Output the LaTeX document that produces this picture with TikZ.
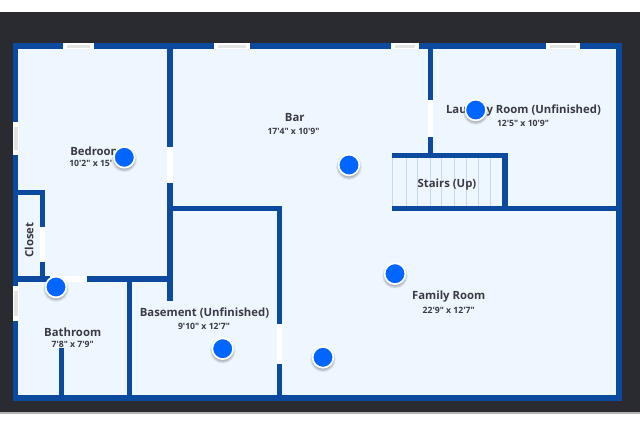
\documentclass[tikz,border=0pt]{standalone}
\usepackage{fontspec}
\newfontfamily\planfont{Open Sans}
\definecolor{frame}{HTML}{2A2B30}
\definecolor{room}{HTML}{EEF7FF}
\definecolor{wall}{HTML}{0B4A9E}
\definecolor{pin}{HTML}{0066FF}
\definecolor{ink}{HTML}{3A3A42}
\definecolor{tread}{HTML}{C4D8EE}
\definecolor{glass}{HTML}{E2E4E2}
\tikzset{
  wallpart/.style={fill=wall},
  doorgap/.style={fill=white},
  treadline/.style={draw=tread,line width=0.6pt},
  roomname/.style={font=\planfont\bfseries\fontsize{8.5}{9}\selectfont,text=ink,inner sep=0pt},
  roomsize/.style={font=\planfont\bfseries\fontsize{6.5}{7}\selectfont,text=ink,inner sep=0pt},
  winframe/.style={fill=white},
  winglass/.style={fill=glass},
  pinshadow/.style={fill=black,fill opacity=0.07},
  pindot/.style={circle,fill=pin,draw=white,line width=1.3pt,minimum size=15.6pt,inner sep=0pt},
}
\newcommand{\pinmark}[3]{%
  \foreach \rr in {9.6,9.0,8.4,7.8} {\fill[pinshadow] (#2,#3+2) circle[radius=\rr pt];}
  \node[pindot] (#1) at (#2,#3) {};}
\newcommand{\hwindow}[2]{%
  \fill[winframe] (#1,43) rectangle (#2,48.5);
  \fill[winglass] (#1+4,44.5) rectangle (#2-4,47.5);}
\newcommand{\vwindow}[2]{%
  \fill[winframe] (13,#1) rectangle (18.5,#2);
  \fill[winglass] (14,#1+5) rectangle (17.5,#2-5);}
\begin{document}
\begin{tikzpicture}[x=0.75pt,y=-0.75pt]
\useasboundingbox (0,0) rectangle (640,426);
\fill[white] (0,0) rectangle (640,426);
\fill[frame] (0,11.5) rectangle (640,412);
\fill[gray!60] (0,412) rectangle (640,414);
% outer wall and floor
\fill[wall] (13,43) rectangle (621.7,400.7);
\fill[room] (18,48.5) rectangle (616,395.3);
% stairs
\foreach \sx in {406,417.7,430,441.7,454,466,478.3,490.7} {\draw[treadline] (\sx,158) -- (\sx,206);}
\draw[treadline] (392.8,158) -- (392.8,206);
% inner walls
\fill[wallpart] (167,48) rectangle (172.7,147);
\fill[doorgap] (167,147) rectangle (172.7,183);
\fill[wallpart] (167,183) rectangle (172.7,300.7);
\fill[wallpart] (167,205.7) rectangle (282,211);
\fill[wallpart] (276.7,205.7) rectangle (282,324);
\fill[doorgap] (276.7,324) rectangle (282,364);
\fill[wallpart] (276.7,364) rectangle (282,400);
\fill[wallpart] (13,190) rectangle (45,195);
\fill[wallpart] (40,190) rectangle (45,227);
\fill[doorgap] (40,227) rectangle (45,262);
\fill[wallpart] (40,262) rectangle (45,281);
\fill[wallpart] (13,276.3) rectangle (50,282);
\fill[doorgap] (50,276.3) rectangle (87,282);
\fill[wallpart] (87,276.3) rectangle (172,282);
\fill[wallpart] (126.7,278) rectangle (132,400);
\fill[wallpart] (58.7,348) rectangle (64,400);
\fill[wallpart] (427.7,48) rectangle (433,100);
\fill[doorgap] (427.7,100) rectangle (433,137);
\fill[wallpart] (427.7,137) rectangle (433,155);
\fill[wallpart] (392.3,152.7) rectangle (507.7,158);
\fill[wallpart] (502.3,152.7) rectangle (507.7,211);
\fill[wallpart] (392.3,205.7) rectangle (617,211);
% windows
\hwindow{62.7}{94}
\hwindow{213.7}{250}
\hwindow{390.7}{419.3}
\hwindow{545.7}{580}
\vwindow{121.7}{155}
\vwindow{285.7}{320.7}
% labels
\node[roomname,anchor=west] (bedroom) at (70,151) {Bedroom};
\node[roomsize,anchor=west] (bedroomsize) at (69,163.5) {10'2" x 15'};
\node[roomname] (bar) at (294.7,118) {Bar};
\node[roomsize] (barsize) at (293.5,131.5) {17'4" x 10'9"};
\node[roomname] (laundry) at (523.5,111) {Laundry Room (Unfinished)};
\node[roomsize] (laundrysize) at (523,123.2) {12'5" x 10'9"};
\node[roomname] (stairs) at (447,185) {Stairs (Up)};
\node[roomname,rotate=90] (closet) at (29.2,240) {Closet};
\node[roomname] (basement) at (204.5,313) {Basement (Unfinished)};
\node[roomsize] (basementsize) at (204,326.2) {9'10" x 12'7"};
\node[roomname] (bathroom) at (72.7,332) {Bathroom};
\node[roomsize] (bathroomsize) at (72.7,344.5) {7'8" x 7'9"};
\node[roomname] (family) at (448.7,297) {Family Room};
\node[roomsize] (familysize) at (448.7,310.2) {22'9" x 12'7"};
% pins
\pinmark{p1}{124.3}{157.3}
\pinmark{p2}{349}{165}
\pinmark{p3}{475.7}{110}
\pinmark{p4}{56}{287}
\pinmark{p5}{222.7}{348.7}
\pinmark{p6}{395}{273.7}
\pinmark{p7}{323}{357.3}
\end{tikzpicture}
\end{document}
